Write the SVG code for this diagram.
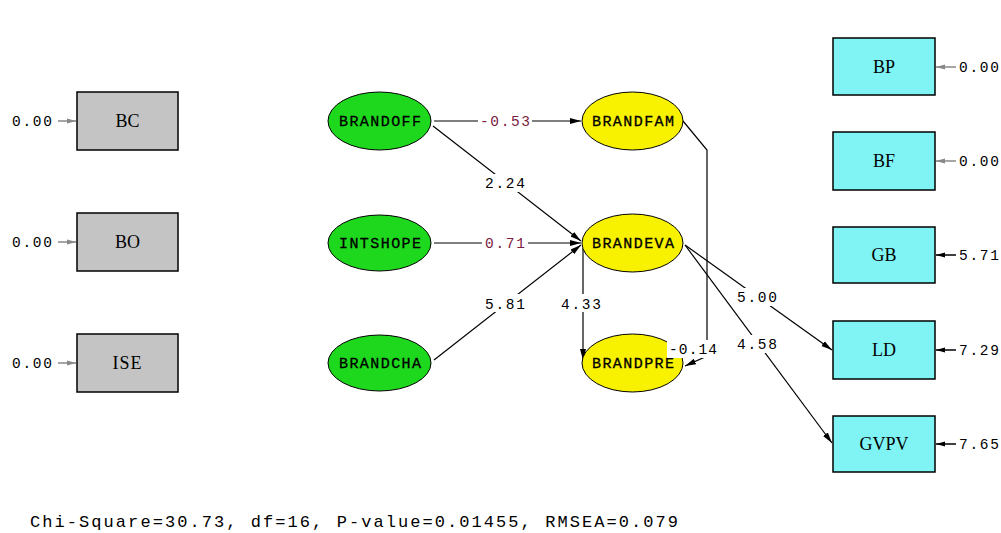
<svg xmlns="http://www.w3.org/2000/svg" width="1001" height="533" viewBox="0 0 1001 533">
<style>
.box{stroke:#000;stroke-width:1.5}
.gray{fill:#c4c4c4}
.cyan{fill:#80f4f4}
.ell{stroke:#000;stroke-width:1}
.green{fill:#1ed81e}
.yellow{fill:#f8f200}
.bl{font-family:"Liberation Serif",serif;font-size:18px;fill:#000;text-anchor:middle}
.el{font-family:"Liberation Mono",monospace;font-size:15px;fill:#000;text-anchor:middle;stroke:#000;stroke-width:0.3}
.num{font-family:"Liberation Mono",monospace;font-size:14.5px;fill:#000;text-anchor:middle}
.red{fill:#7a2040}
.con{stroke:#000;stroke-width:1.2;fill:none}
.err{stroke:#888;stroke-width:1.5;fill:none}
.errb{stroke:#000;stroke-width:1.5;fill:none}
.lbg{fill:#fff}
</style>
<defs>
<marker id="ah" markerWidth="12" markerHeight="8" refX="11" refY="4" orient="auto" markerUnits="userSpaceOnUse">
<path d="M0,1 L11,4 L0,7 Z" fill="#000"/>
</marker>
<marker id="ahg" markerWidth="10" markerHeight="8" refX="9" refY="4" orient="auto" markerUnits="userSpaceOnUse">
<path d="M0,1.5 L9,4 L0,6.5 Z" fill="#888"/>
</marker>
<marker id="ahb" markerWidth="10" markerHeight="8" refX="9" refY="4" orient="auto" markerUnits="userSpaceOnUse">
<path d="M0,1.5 L9,4 L0,6.5 Z" fill="#000"/>
</marker>
</defs>
<rect width="1001" height="533" fill="#fff"/>

<g id="connectors">
<line class="con" x1="434" y1="121" x2="581" y2="121" marker-end="url(#ah)"/>
<line class="con" x1="433" y1="126" x2="581" y2="241" marker-end="url(#ah)"/>
<line class="con" x1="434" y1="243" x2="581" y2="243" marker-end="url(#ah)"/>
<line class="con" x1="434" y1="360" x2="581" y2="245" marker-end="url(#ah)"/>
<line class="con" x1="583" y1="248" x2="583" y2="360" marker-end="url(#ah)"/>
<polyline class="con" points="683,121 707,150 707,356 685,366" marker-end="url(#ah)"/>
<line class="con" x1="685" y1="245" x2="832" y2="350" marker-end="url(#ah)"/>
<line class="con" x1="685" y1="245" x2="832" y2="443" marker-end="url(#ah)"/>

<line class="err" x1="58" y1="121" x2="76" y2="121" marker-end="url(#ahg)"/>
<line class="err" x1="58" y1="242" x2="76" y2="242" marker-end="url(#ahg)"/>
<line class="err" x1="58" y1="363" x2="76" y2="363" marker-end="url(#ahg)"/>
<line class="err" x1="956" y1="67" x2="936" y2="67" marker-end="url(#ahg)"/>
<line class="err" x1="956" y1="161" x2="936" y2="161" marker-end="url(#ahg)"/>
<line class="errb" x1="956" y1="255" x2="936" y2="255" marker-end="url(#ahb)"/>
<line class="errb" x1="956" y1="350" x2="936" y2="350" marker-end="url(#ahb)"/>
<line class="errb" x1="956" y1="444" x2="936" y2="444" marker-end="url(#ahb)"/>
</g>

<g id="n-BC"><rect class="box gray" x="77" y="92" width="101" height="58"/><text class="bl" x="127.5" y="127">BC</text></g>
<g id="n-BO"><rect class="box gray" x="77" y="213" width="101" height="58"/><text class="bl" x="127.5" y="248">BO</text></g>
<g id="n-ISE"><rect class="box gray" x="77" y="334" width="101" height="58"/><text class="bl" x="127.5" y="369" letter-spacing="1">ISE</text></g>

<g id="n-BRANDOFF"><ellipse class="ell green" cx="379.5" cy="121" rx="51.5" ry="29"/><text class="el" x="380" y="126" textLength="82">BRANDOFF</text></g>
<g id="n-INTSHOPE"><ellipse class="ell green" cx="379.5" cy="243" rx="51.5" ry="28"/><text class="el" x="380" y="248" textLength="82">INTSHOPE</text></g>
<g id="n-BRANDCHA"><ellipse class="ell green" cx="379.5" cy="363" rx="51.5" ry="28"/><text class="el" x="380" y="368" textLength="82">BRANDCHA</text></g>

<g id="n-BRANDFAM"><ellipse class="ell yellow" cx="632.5" cy="121" rx="50.5" ry="29"/><text class="el" x="633" y="126" textLength="82">BRANDFAM</text></g>
<g id="n-BRANDEVA"><ellipse class="ell yellow" cx="632.5" cy="243" rx="50.5" ry="29"/><text class="el" x="633" y="248" textLength="82">BRANDEVA</text></g>
<g id="n-BRANDPRE"><ellipse class="ell yellow" cx="632.5" cy="363" rx="50.5" ry="29"/><text class="el" x="633" y="368" textLength="82">BRANDPRE</text></g>

<g id="n-BP"><rect class="box cyan" x="833" y="38" width="102" height="57"/><text class="bl" x="884" y="73">BP</text></g>
<g id="n-BF"><rect class="box cyan" x="833" y="132" width="102" height="58"/><text class="bl" x="884" y="167">BF</text></g>
<g id="n-GB"><rect class="box cyan" x="833" y="227" width="102" height="56"/><text class="bl" x="884" y="261">GB</text></g>
<g id="n-LD"><rect class="box cyan" x="833" y="321" width="102" height="58"/><text class="bl" x="884" y="356">LD</text></g>
<g id="n-GVPV"><rect class="box cyan" x="833" y="416" width="102" height="56"/><text class="bl" x="884" y="450">GVPV</text></g>

<g id="labels">
<rect class="lbg" x="478" y="112" width="54" height="18"/>
<text class="num red" x="505" y="126" textLength="50">-0.53</text>
<rect class="lbg" x="482" y="174" width="46" height="18"/>
<text class="num" x="505" y="188" textLength="40">2.24</text>
<rect class="lbg" x="482" y="234" width="46" height="18"/>
<text class="num red" x="505" y="248" textLength="40">0.71</text>
<rect class="lbg" x="482" y="294" width="46" height="18"/>
<text class="num" x="505" y="309" textLength="40">5.81</text>
<rect class="lbg" x="558" y="294" width="46" height="18"/>
<text class="num" x="581" y="309" textLength="40">4.33</text>
<rect class="lbg" x="667" y="340" width="54" height="18"/>
<text class="num" x="693" y="354" textLength="48">-0.14</text>
<rect class="lbg" x="734" y="288" width="46" height="18"/>
<text class="num" x="757" y="302" textLength="40">5.00</text>
<rect class="lbg" x="734" y="335" width="46" height="18"/>
<text class="num" x="757" y="349" textLength="40">4.58</text>

<text class="num" x="32" y="126" textLength="40">0.00</text>
<text class="num" x="32" y="247" textLength="40">0.00</text>
<text class="num" x="32" y="368" textLength="40">0.00</text>
<text class="num" x="979" y="72" textLength="40">0.00</text>
<text class="num" x="979" y="166" textLength="40">0.00</text>
<text class="num" x="979" y="260" textLength="40">5.71</text>
<text class="num" x="979" y="355" textLength="40">7.29</text>
<text class="num" x="979" y="449" textLength="40">7.65</text>

<text x="30" y="527" font-family="Liberation Mono, monospace" font-size="17px" fill="#000" textLength="648">Chi-Square=30.73, df=16, P-value=0.01455, RMSEA=0.079</text>
</g>
</svg>
